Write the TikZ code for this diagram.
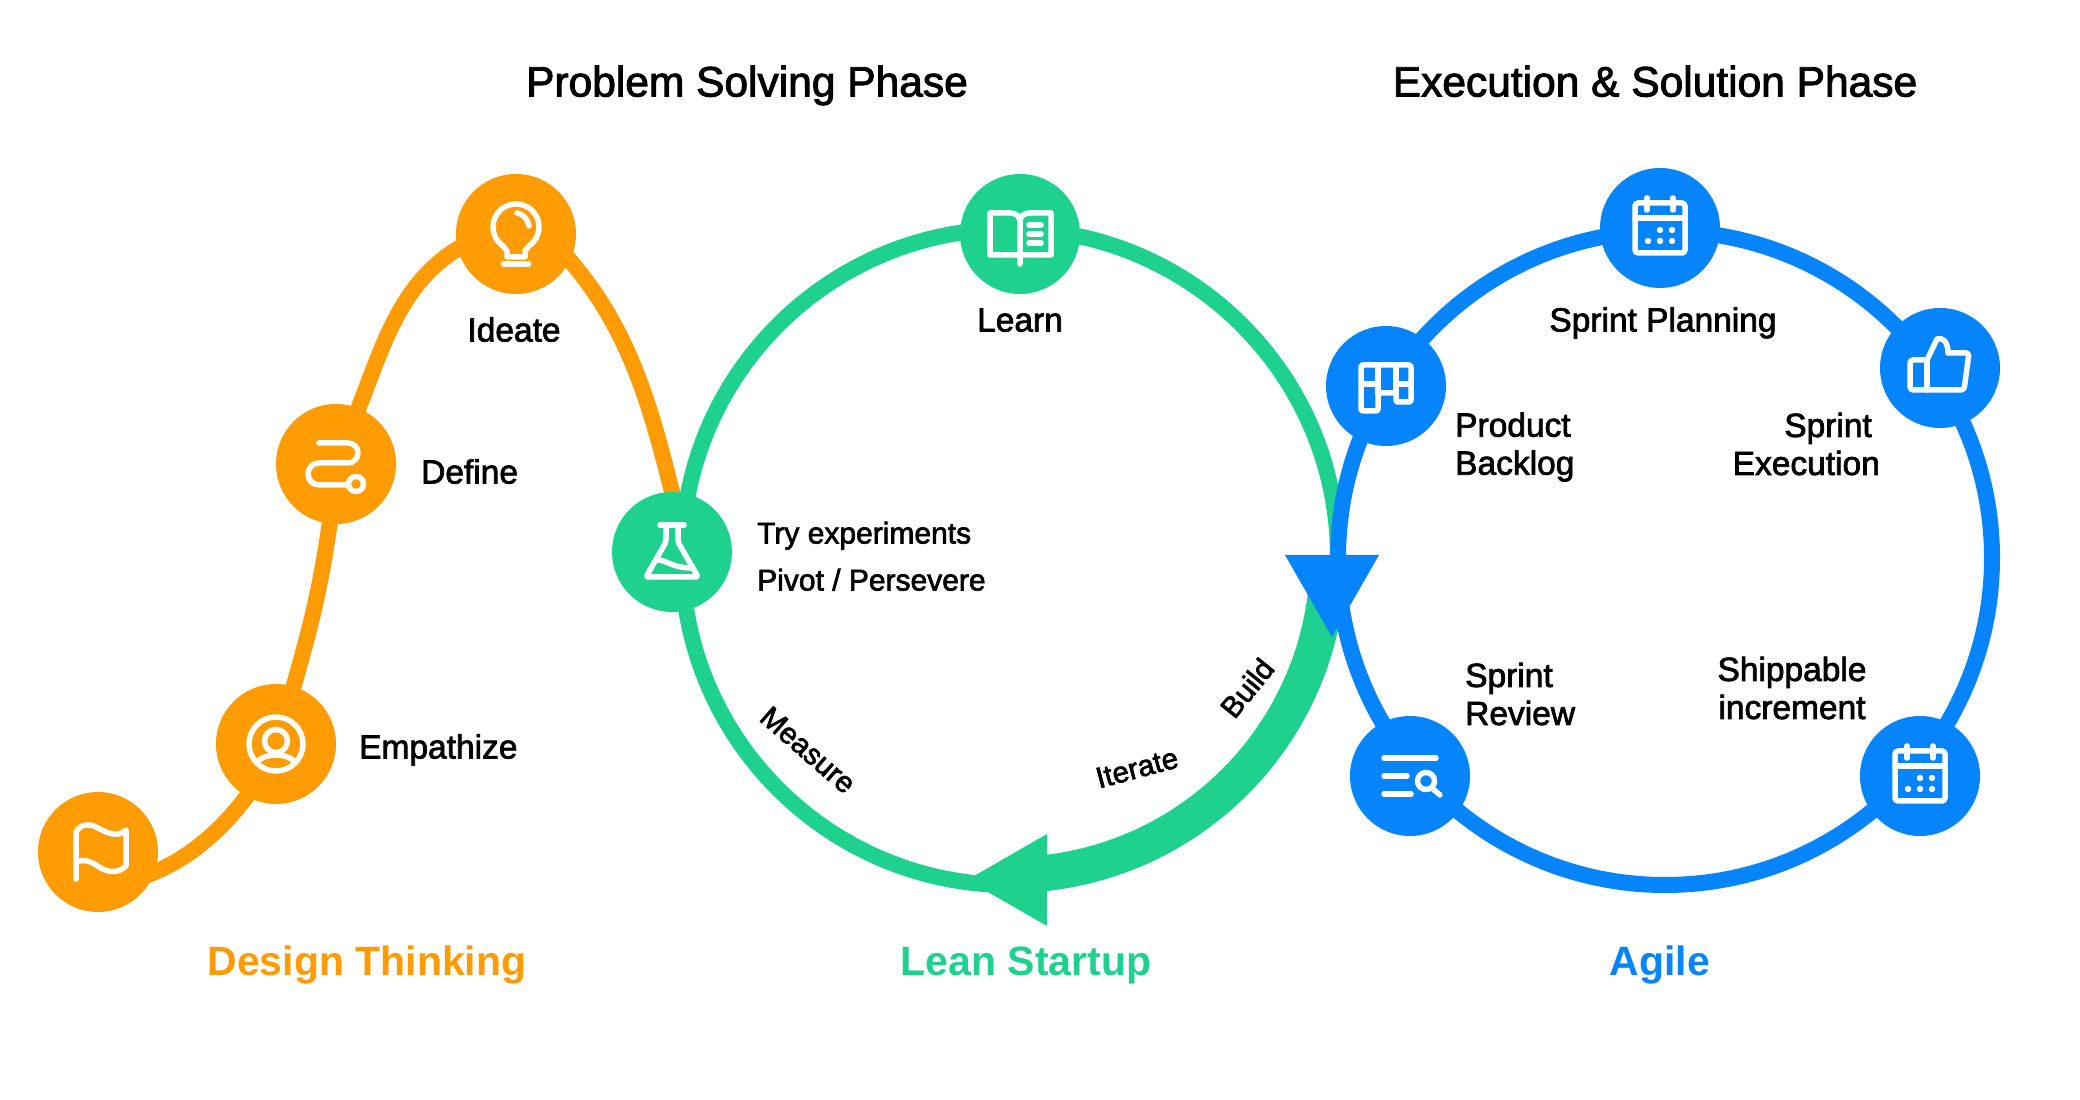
\documentclass[tikz,border=0pt]{standalone}
\usepackage{fontspec}
\setmainfont{Liberation Sans}[FakeBold=2.2,BoldFont={Liberation Sans Bold},BoldFeatures={FakeBold=0}]
\usetikzlibrary{backgrounds}

\definecolor{thinkorange}{HTML}{FF9C04}
\definecolor{leangreen}{HTML}{1FD18F}
\definecolor{agileblue}{HTML}{0584FB}

\tikzstyle{thinkstep} = [circle, minimum size=120pt, inner sep=0pt, fill=thinkorange]
\tikzstyle{leanstep} = [circle, minimum size=120pt, inner sep=0pt, fill=leangreen]
\tikzstyle{agilestep} = [circle, minimum size=120pt, inner sep=0pt, fill=agileblue]
\tikzstyle{thinkline} = [line width=16pt, draw=thinkorange, shorten <=-10pt, shorten >=-10pt]
\tikzstyle{leanring} = [line width=16pt, draw=leangreen]
\tikzstyle{buildband} = [line width=34pt, draw=leangreen]
\tikzstyle{agilering} = [line width=16pt, draw=agileblue]
\tikzstyle{iconline} = [line width=5.5pt, draw=white, line cap=round, line join=round]
\tikzstyle{icondot} = [fill=white]
\tikzstyle{phasetitle} = [inner sep=0pt, text height=0.75em, text depth=0.25em, font=\fontsize{42.5}{50}\selectfont]
\tikzstyle{stepname} = [inner sep=0pt, text height=0.75em, text depth=0.25em, font=\fontsize{33.5}{38}\selectfont]
\tikzstyle{pairname} = [inner sep=0pt, font=\fontsize{33.5}{38}\selectfont]
\tikzstyle{smallname} = [inner sep=0pt, text height=0.75em, text depth=0.25em, font=\fontsize{30}{34}\selectfont]
\tikzstyle{loopname} = [inner sep=0pt, font=\fontsize{29.5}{34}\selectfont]
\tikzstyle{methodname} = [inner sep=0pt, text height=0.75em, text depth=0.25em, font=\fontsize{41}{48}\selectfont\bfseries]

\begin{document}
\begin{tikzpicture}[x=1pt, y=1pt]

	\useasboundingbox (0,0) rectangle (2080,1100);

	\coordinate (leancentre) at (1010,543);
	\coordinate (agilecentre) at (1665,542);

	\node (flag) [thinkstep] at (98,248) {};
	\node (empathize) [thinkstep] at (276,356) {};
	\node (define) [thinkstep] at (336,636) {};
	\node (ideate) [thinkstep] at (516,866) {};

	\node (flask) [leanstep] at (672,548) {};
	\node (book) [leanstep] at (1020,866) {};

	\node (planning) [agilestep] at (1660,872) {};
	\node (execution) [agilestep] at (1940,732) {};
	\node (shippable) [agilestep] at (1920,324) {};
	\node (review) [agilestep] at (1410,324) {};
	\node (backlog) [agilestep] at (1386,714) {};

	\begin{pgfonlayer}{background}
		\draw [thinkline] (flag.-20) to [out=20, in=-125, looseness=0.8] (empathize.-119);
		\draw [thinkline] (empathize.73) to [out=74, in=-98] (define.-96);
		\draw [thinkline] (define.68) to [out=68, in=208, looseness=0.9] (ideate.194);
		\draw [thinkline] (ideate.-26) to [out=-48, in=104, looseness=0.9] (flask.90);

		\draw [leanring] (leancentre) circle [radius=328];
		\draw [buildband] ([shift={(-4:317)}]leancentre) arc [start angle=-4, end angle=-85, radius=317];
		\coordinate (leanbasetop) at (1047,266);
		\coordinate (leanbasebottom) at (1047,174);
		\coordinate (leantip) at (967,220);
		\fill [leangreen] (leanbasetop) -- (leanbasebottom) -- (leantip) -- cycle;

		\draw [agilering] (agilecentre) circle [radius=327];
		\coordinate (agilebaseleft) at (1285,545);
		\coordinate (agilebaseright) at (1379,545);
		\coordinate (agiletip) at (1332,463);
		\fill [agileblue] (agilebaseleft) -- (agilebaseright) -- (agiletip) -- cycle;
	\end{pgfonlayer}

	\draw [iconline, shift={(flag.center)}] (-22,-27) -- (-22,20) .. controls (-18,28) and (-8,29) .. (0,24) .. controls (9,19) and (20,14) .. (28,22) -- (28,-14) .. controls (20,-22) and (10,-20) .. (3,-16) .. controls (-5,-11) and (-14,-5) .. (-22,-11);

	\draw [iconline, shift={(empathize.center)}] (0,0) circle [radius=27];
	\draw [iconline, shift={(empathize.center)}] (0,3) circle [radius=11.5];
	\draw [iconline, shift={(empathize.center)}] (-18,-17) .. controls (-10,-9) and (10,-9) .. (18,-17);

	\draw [iconline, shift={(define.center)}] (-17,21) -- (12,21) arc [start angle=90, end angle=-90, radius=10] -- (-17,1) arc [start angle=90, end angle=270, radius=11] -- (12,-21);
	\draw [iconline, shift={(define.center)}] (20,-20) circle [radius=7.5];

	\draw [iconline, shift={(ideate.center)}] (-13.2,-11.8) arc [start angle=235, end angle=-55, radius=23] -- (9,-17) -- (9,-23) -- (-9,-23) -- (-9,-17) -- cycle;
	\draw [iconline, shift={(ideate.center)}] (-12.5,-30) -- (12.5,-30);
	\draw [iconline, shift={(ideate.center)}] (1,21) .. controls (7,20) and (12,15) .. (13,8);

	\draw [iconline, shift={(flask.center)}] (-12,27) -- (12,27);
	\draw [iconline, shift={(flask.center)}, rounded corners=2pt] (-6,27) -- (-6,10) -- (-26,-25) -- (26,-25) -- (6,10) -- (6,27);
	\draw [iconline, shift={(flask.center)}] (-15,-8) .. controls (-5,-8) and (0,-16) .. (20,-16);

	\draw [iconline, shift={(book.center)}] (0,-21) -- (-30,-21) -- (-30,21) -- (-10,21) .. controls (-4,21) and (0,18) .. (0,12) -- (0,-30);
	\draw [iconline, shift={(book.center)}] (0,-21) -- (31,-21) -- (31,21) -- (10,21) .. controls (4,21) and (0,18) .. (0,12);
	\draw [iconline, shift={(book.center)}] (9,9) -- (21,9);
	\draw [iconline, shift={(book.center)}] (9,0) -- (21,0);
	\draw [iconline, shift={(book.center)}] (9,-9) -- (21,-9);

	\draw [iconline, shift={(planning.center)}, rounded corners=3pt] (-25,-25) rectangle (25,25);
	\draw [iconline, shift={(planning.center)}] (-25,10) -- (25,10);
	\draw [iconline, shift={(planning.center)}] (-13,30) -- (-13,18);
	\draw [iconline, shift={(planning.center)}] (13,30) -- (13,18);
	\fill [icondot, shift={(planning.center)}] (0,-2) circle [radius=3.2] (12,-2) circle [radius=3.2] (-12,-13) circle [radius=3.2] (0,-13) circle [radius=3.2] (12,-13) circle [radius=3.2];

	\draw [iconline, shift={(shippable.center)}, rounded corners=3pt] (-25,-25) rectangle (25,25);
	\draw [iconline, shift={(shippable.center)}] (-25,10) -- (25,10);
	\draw [iconline, shift={(shippable.center)}] (-13,30) -- (-13,18);
	\draw [iconline, shift={(shippable.center)}] (13,30) -- (13,18);
	\fill [icondot, shift={(shippable.center)}] (0,-2) circle [radius=3.2] (12,-2) circle [radius=3.2] (-12,-13) circle [radius=3.2] (0,-13) circle [radius=3.2] (12,-13) circle [radius=3.2];

	\draw [iconline, shift={(execution.center)}, rounded corners=3pt] (-13,8) -- (-30,8) -- (-30,-22) -- (24,-22) -- (29,15) -- (8,15);
	\draw [iconline, shift={(execution.center)}] (-13,8) -- (-13,-22);
	\draw [iconline, shift={(execution.center)}] (-13,8) -- (-3,29) .. controls (2,31) and (8,27) .. (8,15);

	\draw [iconline, shift={(review.center)}] (-26,18) -- (26,18);
	\draw [iconline, shift={(review.center)}] (-26,0) -- (-3,0);
	\draw [iconline, shift={(review.center)}] (-26,-18) -- (1,-18);
	\draw [iconline, shift={(review.center)}] (16,-5) circle [radius=8.5];
	\draw [iconline, shift={(review.center)}] (23,-13) -- (30,-19);

	\draw [iconline, shift={(backlog.center)}, rounded corners=2pt] (-8,-7) -- (-8,-25) -- (-25,-25) -- (-25,21) -- (25,21) -- (25,-16) -- (10,-16) -- (10,-7) -- cycle;
	\draw [iconline, shift={(backlog.center)}] (-8,21) -- (-8,-7);
	\draw [iconline, shift={(backlog.center)}] (10,21) -- (10,-7);
	\draw [iconline, shift={(backlog.center)}] (-25,2) -- (-8,2);
	\draw [iconline, shift={(backlog.center)}] (10,2) -- (25,2);

	\node (problemtitle) [phasetitle] at (747,1006) {Problem Solving Phase};
	\node (solutiontitle) [phasetitle] at (1655,1006) {Execution \& Solution Phase};

	\node (ideatename) [stepname] at (514,761) {Ideate};
	\node (definename) [stepname, anchor=west] at (421,619) {Define};
	\node (empathizename) [stepname, anchor=west] at (359,344) {Empathize};
	\node (learnname) [stepname] at (1020,771) {Learn};
	\node (tryname) [smallname, anchor=west] at (757,559) {Try experiments};
	\node (pivotname) [smallname, anchor=west] at (757,512) {Pivot / Persevere};
	\node (measurename) [loopname, rotate=-41] at (808,350) {Measure};
	\node (iteratename) [loopname, rotate=15] at (1137,332) {Iterate};
	\node (buildname) [loopname, rotate=51] at (1247,412) {Build};

	\node (planningname) [stepname] at (1663,771) {Sprint Planning};
	\node (backlogname) [pairname, anchor=west, align=left] at (1455,653) {Product\\Backlog};
	\node (executionname) [pairname, anchor=east, align=right] at (1880,656) {Sprint\hspace*{8pt}\\Execution};
	\node (reviewname) [pairname, anchor=west, align=left] at (1465,406) {Sprint\\Review};
	\node (shippablename) [pairname, align=center] at (1792,412) {Shippable\\increment};

	\node (thinkname) [methodname, text=thinkorange] at (367,127) {Design Thinking};
	\node (leanname) [methodname, text=leangreen] at (1026,127) {Lean Startup};
	\node (agilename) [methodname, text=agileblue] at (1660,127) {Agile};

\end{tikzpicture}
\end{document}
